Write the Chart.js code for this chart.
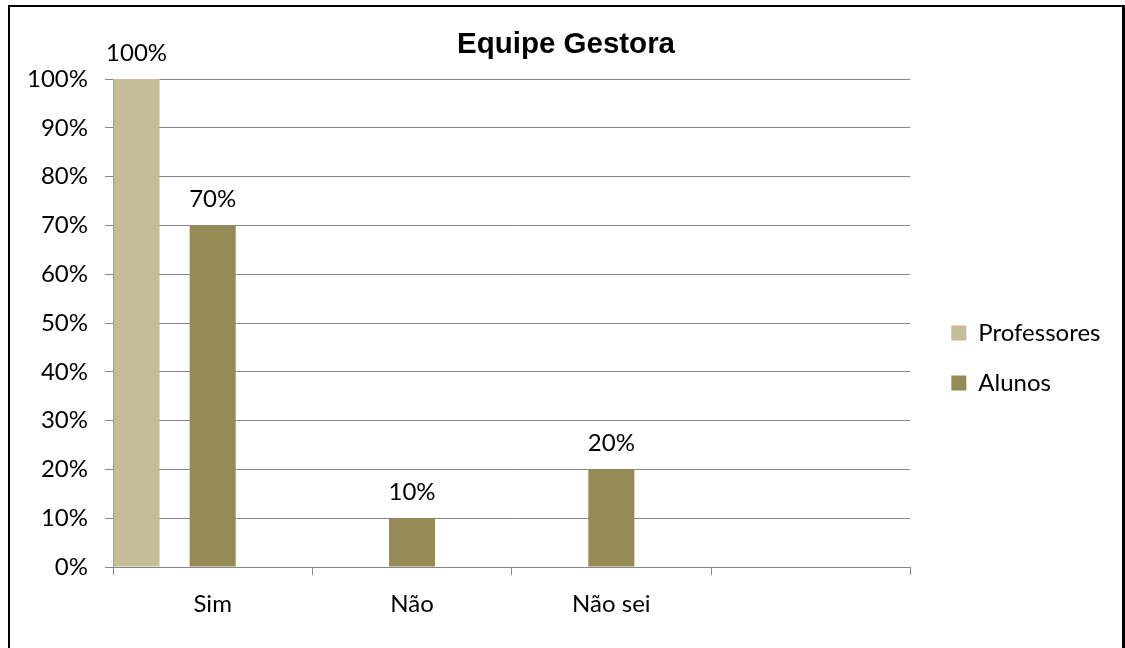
<!DOCTYPE html>
<html>
<head>
<meta charset="utf-8">
<script src="https://cdn.jsdelivr.net/npm/chart.js@4"></script>
<style>
  html, body { margin: 0; padding: 0; background: #fff; overflow: hidden; }
  #frame {
    position: absolute; left: 8px; top: 5px;
    width: 1112px; height: 702px;
    border: 2px solid #000; border-right-width: 3px; background: #fff;
  }
</style>
</head>
<body>
<div id="frame"><canvas id="chart"></canvas></div>
<script>
// Answers to the question about the management team
const categories = ['Sim', 'Não', 'Não sei', ''];
const professores = [1.0, null, null, null];
const alunos = [0.7, 0.1, 0.2, null];
// third (empty) series keeps the bar slots of each group
const vazio = [null, null, null, null];

const yTickValues = [0, 0.1, 0.2, 0.3, 0.4, 0.5, 0.6, 0.7, 0.8, 0.9, 1.0];
const yTickLabels = ['0%', '10%', '20%', '30%', '40%', '50%', '60%', '70%', '80%', '90%', '100%'];

const GRID = '#868686';
const FONT = 'Lato';
const FONT_SIZE = 24;

Chart.defaults.font.family = FONT;
Chart.defaults.color = '#000';

const pct = v => Math.round(v * 100) + '%';

// writes the value above each bar
const valueLabels = {
  id: 'valueLabels',
  afterDatasetsDraw(chart) {
    const ctx = chart.ctx;
    ctx.save();
    ctx.font = FONT_SIZE + 'px ' + FONT;
    ctx.fillStyle = '#000';
    ctx.textAlign = 'center';
    ctx.textBaseline = 'middle';
    chart.data.datasets.forEach((ds, i) => {
      const meta = chart.getDatasetMeta(i);
      if (meta.hidden) return;
      meta.data.forEach((bar, j) => {
        const v = ds.data[j];
        if (v === null || v === undefined) return;
        ctx.fillText(pct(v), bar.x, bar.y - 26);
      });
    });
    ctx.restore();
  }
};

new Chart(document.getElementById('chart'), {
  type: 'bar',
  data: {
    labels: categories,
    datasets: [
      { label: 'Professores', data: professores, backgroundColor: '#C4BD97' },
      { label: 'Alunos', data: alunos, backgroundColor: '#948A54' },
      { label: '', data: vazio, backgroundColor: 'rgba(0,0,0,0)' }
    ]
  },
  options: {
    responsive: true,
    maintainAspectRatio: false,
    animation: false,
    categoryPercentage: 1.1457,
    barPercentage: 0.605,
    layout: { padding: { left: 17, top: 0, bottom: 0, right: 17 } },
    plugins: {
      title: {
        display: true,
        text: 'Equipe Gestora',
        color: '#000',
        font: { family: 'Liberation Sans', size: 29.5, weight: 'bold' },
        padding: { top: 20.2, bottom: 16.4 }
      },
      legend: {
        position: 'right',
        align: 'center',
        labels: {
          boxWidth: 15,
          boxHeight: 15,
          padding: 26,
          color: '#000',
          font: { size: FONT_SIZE },
          filter: item => item.text !== ''
        }
      },
      tooltip: { enabled: false }
    },
    scales: {
      x: {
        grid: { offset: true, drawOnChartArea: false, tickLength: 8, color: GRID },
        border: { color: GRID },
        ticks: { color: '#000', font: { size: FONT_SIZE }, padding: 15, maxRotation: 0 },
        afterFit: s => { s.height = 142; }
      },
      y: {
        min: 0,
        max: 1,
        afterBuildTicks: s => { s.ticks = yTickValues.map(v => ({ value: v })); },
        ticks: {
          color: '#000',
          font: { size: FONT_SIZE },
          padding: 17,
          callback: (v, i) => yTickLabels[i]
        },
        grid: { color: GRID, tickLength: 8 },
        border: { color: GRID },
        afterFit: s => { s.width = 86; }
      },
      gap: {
        type: 'linear',
        axis: 'y',
        position: 'right',
        display: true,
        grid: { display: false },
        ticks: { display: false },
        border: { display: false },
        afterFit: s => { s.width = 15; }
      }
    }
  },
  plugins: [valueLabels]
});
</script>
</body>
</html>
